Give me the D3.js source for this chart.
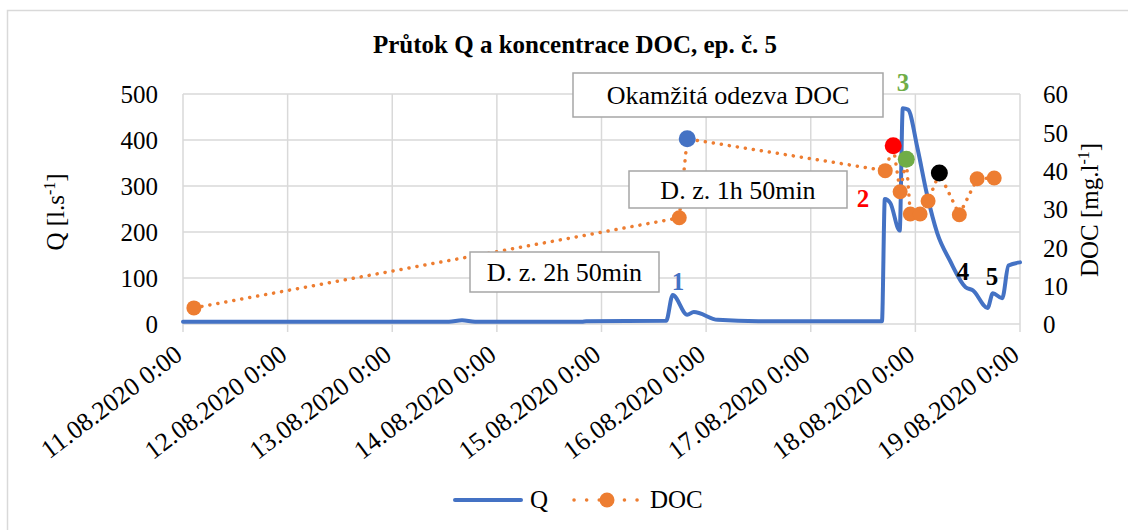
<!DOCTYPE html>
<html>
<head>
<meta charset="utf-8">
<script src="https://cdn.jsdelivr.net/npm/d3@7"></script>
<style>
  body { margin: 0; background: #fff; }
  text { font-family: "Liberation Serif", "Times New Roman", serif; }
</style>
</head>
<body>
<div id="chart"></div>
<script>
// průtok Q
const qTimes = ["2020-08-11 00:00", "2020-08-13 13:00", "2020-08-13 16:00", "2020-08-13 19:00",
  "2020-08-14 19:30", "2020-08-14 20:30", "2020-08-15 14:50", "2020-08-15 16:20", "2020-08-15 19:40",
  "2020-08-15 21:10", "2020-08-16 02:40", "2020-08-16 12:00", "2020-08-17 16:20", "2020-08-17 17:00",
  "2020-08-17 18:15", "2020-08-17 20:24", "2020-08-17 21:07", "2020-08-17 22:19", "2020-08-18 00:29",
  "2020-08-18 02:38", "2020-08-18 05:02", "2020-08-18 07:55", "2020-08-18 11:31", "2020-08-18 13:12",
  "2020-08-18 16:34", "2020-08-18 17:46", "2020-08-18 19:55", "2020-08-18 21:22", "2020-08-19 00:00"];
const qValues = [5, 5, 8, 5, 5, 6, 7, 63, 20, 26, 9, 6, 6, 272, 263, 203, 469, 466, 382,
  283, 197, 138, 80, 73, 35, 67, 56, 127, 134];

// koncentrace DOC
const docTimes = ["2020-08-11 02:30", "2020-08-15 17:50", "2020-08-15 19:40", "2020-08-17 17:05",
  "2020-08-17 18:55", "2020-08-17 20:30", "2020-08-17 21:55", "2020-08-17 22:50", "2020-08-18 01:05",
  "2020-08-18 02:55", "2020-08-18 05:30", "2020-08-18 10:05", "2020-08-18 14:10", "2020-08-18 18:05"];
const docValues = [4.2, 27.7, 48.3, 40.0, 46.5, 34.5, 43.0, 28.7, 28.7, 32.1, 39.4, 28.5, 37.9, 38.1];
const docMarks = ["", "", "#4472c4", "", "#ff0000", "", "#70ad47", "", "", "", "#000000", "", "", ""];

const qTicks = [0, 100, 200, 300, 400, 500];
const docTicks = [0, 10, 20, 30, 40, 50, 60];
const dayTicks = ["2020-08-11", "2020-08-12", "2020-08-13", "2020-08-14", "2020-08-15",
  "2020-08-16", "2020-08-17", "2020-08-18", "2020-08-19"];

const parse = d3.timeParse("%Y-%m-%d %H:%M");
const parseDay = d3.timeParse("%Y-%m-%d");
const fmt = d3.timeFormat("%d.%m.%Y 0:00");

const width = 1128, height = 530;
const margin = { top: 94, right: 108, bottom: 206, left: 183 };
const plotW = width - margin.left - margin.right;
const plotH = height - margin.top - margin.bottom;

const blue = "#4472c4", orange = "#ed7d31", grid = "#d9d9d9";

const svg = d3.select("#chart").append("svg")
  .attr("width", width).attr("height", height);

// okraj grafu
svg.append("rect")
  .attr("x", 7.5).attr("y", 10.5).attr("width", 1140).attr("height", 540)
  .attr("fill", "none").attr("stroke", grid).attr("stroke-width", 1.5);

svg.append("text")
  .attr("x", 575).attr("y", 53)
  .attr("text-anchor", "middle")
  .style("font-size", "25px").style("font-weight", "bold")
  .text("Průtok Q a koncentrace DOC, ep. č. 5");

const g = svg.append("g").attr("transform", `translate(${margin.left},${margin.top})`);

const x = d3.scaleTime()
  .domain([parseDay(dayTicks[0]), parseDay(dayTicks[dayTicks.length - 1])])
  .range([0, plotW]);
const yQ = d3.scaleLinear().domain([0, 500]).range([plotH, 0]);
const yD = d3.scaleLinear().domain([0, 60]).range([plotH, 0]);

// mřížka
g.append("g").selectAll("line")
  .data(qTicks)
  .join("line")
  .attr("x1", 0).attr("x2", plotW)
  .attr("y1", d => yQ(d)).attr("y2", d => yQ(d))
  .attr("stroke", grid).attr("stroke-width", 1.5);

g.append("g").selectAll("line")
  .data(dayTicks)
  .join("line")
  .attr("x1", d => x(parseDay(d))).attr("x2", d => x(parseDay(d)))
  .attr("y1", 0).attr("y2", plotH + 8)
  .attr("stroke", grid).attr("stroke-width", 1.5);

// osy
const axisL = g.append("g").call(d3.axisLeft(yQ).tickValues(qTicks).tickSize(0).tickPadding(25));
const axisR = g.append("g").attr("transform", `translate(${plotW},0)`)
  .call(d3.axisRight(yD).tickValues(docTicks).tickSize(0).tickPadding(23));
[axisL, axisR].forEach(a => {
  a.select(".domain").remove();
  a.selectAll("text").style("font-size", "25px").style("font-family", "Liberation Serif")
    .attr("fill", "#000").attr("dy", "0.35em");
});

g.append("g").selectAll("text")
  .data(dayTicks)
  .join("text")
  .attr("transform", d => `translate(${x(parseDay(d)) + 1},${plotH + 34}) rotate(-37)`)
  .attr("text-anchor", "end")
  .style("font-size", "26px")
  .text(d => fmt(parseDay(d)));

// popisky os
const tl = svg.append("text")
  .attr("transform", "translate(64,212) rotate(-90)")
  .attr("text-anchor", "middle")
  .style("font-size", "25px");
tl.append("tspan").text("Q [l.s");
tl.append("tspan").attr("dy", -9).style("font-size", "16px").text("-1");
tl.append("tspan").attr("dy", 9).text("]");

const tr = svg.append("text")
  .attr("transform", "translate(1098,210) rotate(-90)")
  .attr("text-anchor", "middle")
  .style("font-size", "25px");
tr.append("tspan").text("DOC [mg.l");
tr.append("tspan").attr("dy", -9).style("font-size", "16px").text("-1");
tr.append("tspan").attr("dy", 9).text("]");

// čára Q
const qData = qTimes.map((t, i) => ({ t: parse(t), v: qValues[i] }));
g.append("path")
  .datum(qData)
  .attr("fill", "none").attr("stroke", blue).attr("stroke-width", 4)
  .attr("stroke-linejoin", "round").attr("stroke-linecap", "round")
  .attr("d", d3.line().x(d => x(d.t)).y(d => yQ(d.v)).curve(d3.curveMonotoneX));

// DOC
const docData = docTimes.map((t, i) => ({ t: parse(t), v: docValues[i], c: docMarks[i] }));
g.append("path")
  .datum(docData)
  .attr("fill", "none").attr("stroke", orange).attr("stroke-width", 3.5)
  .attr("stroke-dasharray", "0.1 8").attr("stroke-linecap", "round")
  .attr("d", d3.line().x(d => x(d.t)).y(d => yD(d.v)));

g.append("g").selectAll("circle")
  .data(docData)
  .join("circle")
  .attr("cx", d => x(d.t)).attr("cy", d => yD(d.v))
  .attr("r", d => d.c ? 8.5 : 7.5)
  .attr("fill", d => d.c || orange);

// poznámky
const notes = [
  { text: "Okamžitá odezva DOC", x: 573, y: 73, w: 310, h: 44 },
  { text: "D. z. 1h 50min", x: 629, y: 171, w: 218, h: 37 },
  { text: "D. z. 2h 50min", x: 470, y: 252, w: 189, h: 40 }
];
notes.forEach(n => {
  svg.append("rect")
    .attr("x", n.x).attr("y", n.y).attr("width", n.w).attr("height", n.h)
    .attr("fill", "#fff").attr("stroke", "#a6a6a6").attr("stroke-width", 1.5);
  svg.append("text")
    .attr("x", n.x + n.w / 2).attr("y", n.y + n.h / 2 + 9)
    .attr("text-anchor", "middle")
    .style("font-size", "26px")
    .text(n.text);
});

const nums = [
  { t: "1", x: 678, y: 290, c: blue },
  { t: "2", x: 863, y: 207, c: "#ff0000" },
  { t: "3", x: 903, y: 91, c: "#70ad47" },
  { t: "4", x: 963, y: 280, c: "#000" },
  { t: "5", x: 992, y: 285, c: "#000" }
];
svg.selectAll(".num")
  .data(nums)
  .join("text")
  .attr("class", "num")
  .attr("x", d => d.x).attr("y", d => d.y)
  .attr("text-anchor", "middle")
  .attr("fill", d => d.c)
  .style("font-size", "25px").style("font-weight", "bold")
  .text(d => d.t);

// legenda
const leg = svg.append("g").attr("transform", "translate(0,500)");
leg.append("line")
  .attr("x1", 455).attr("x2", 521).attr("y1", 0).attr("y2", 0)
  .attr("stroke", blue).attr("stroke-width", 4).attr("stroke-linecap", "round");
leg.append("text").attr("x", 530).attr("y", 8).style("font-size", "25px").text("Q");
leg.append("line")
  .attr("x1", 574).attr("x2", 638).attr("y1", 0).attr("y2", 0)
  .attr("stroke", orange).attr("stroke-width", 3.5)
  .attr("stroke-dasharray", "0.1 12.5").attr("stroke-linecap", "round");
leg.append("circle").attr("cx", 607).attr("cy", 0).attr("r", 7.5).attr("fill", orange);
leg.append("text").attr("x", 650).attr("y", 8).style("font-size", "25px").text("DOC");
</script>
</body>
</html>
